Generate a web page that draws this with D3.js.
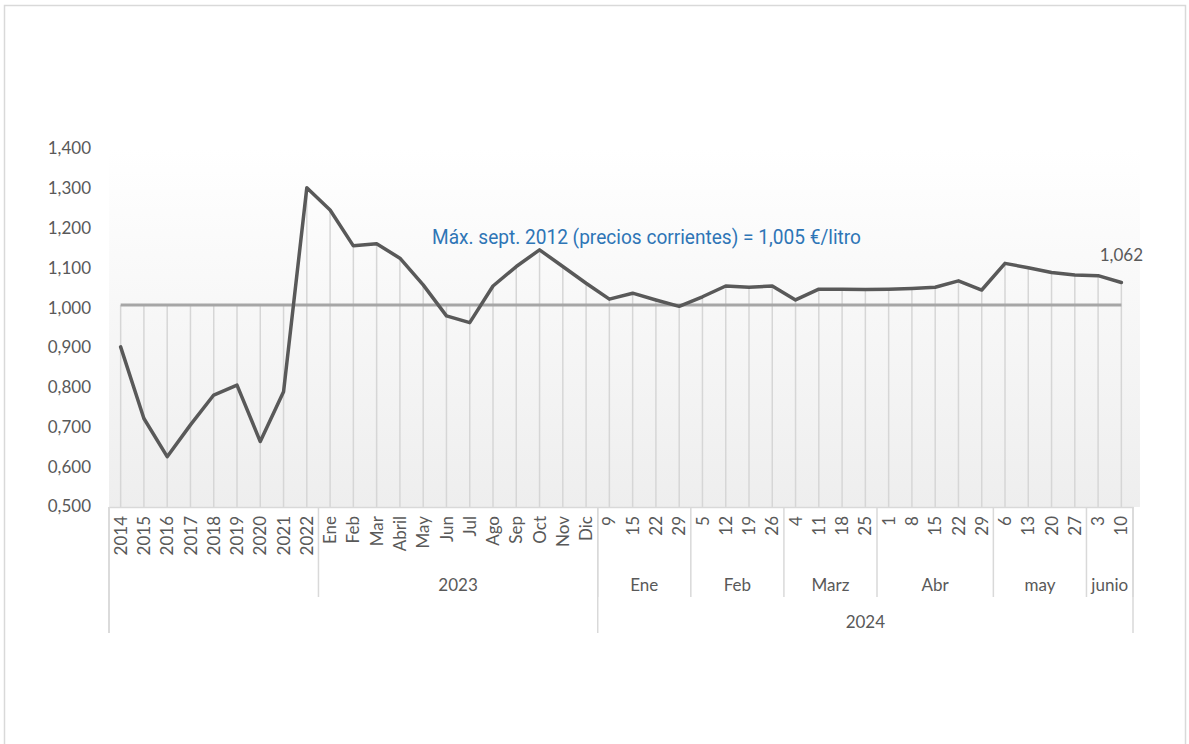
<!DOCTYPE html>
<html><head><meta charset="utf-8">
<script src="https://cdn.jsdelivr.net/npm/d3@7"></script>
<style>body{margin:0;background:#fff} svg{display:block}</style>
</head><body><svg id="c" width="1189" height="744"></svg>
<script>
const categories = ["2014","2015","2016","2017","2018","2019","2020","2021","2022",
  "Ene","Feb","Mar","Abril","May","Jun","Jul","Ago","Sep","Oct","Nov","Dic",
  "9","15","22","29","5","12","19","26","4","11","18","25","1","8","15","22","29","6","13","20","27","3","10"];
const values = [0.900,0.720,0.624,0.704,0.779,0.804,0.662,0.787,1.300,
  1.244,1.154,1.159,1.123,1.056,0.978,0.961,1.053,1.102,1.144,1.102,1.060,
  1.020,1.035,1.018,1.002,1.026,1.053,1.050,1.053,1.018,1.045,1.045,1.044,1.045,1.047,1.050,1.066,1.043,1.110,1.099,1.087,1.081,1.079,1.062];
const refValue = 1.005;
const yTicks = [0.5,0.6,0.7,0.8,0.9,1.0,1.1,1.2,1.3,1.4];
const level2Groups = [["",9],["2023",12],["Ene",4],["Feb",4],["Marz",4],["Abr",5],["may",4],["junio",2]];
const level3Groups = [["",21],["2024",23]];
const annotationText = "Máx. sept. 2012 (precios corrientes) = 1,005 €/litro";
const lastLabel = "1,062";

const FONT = "Lato, 'Noto Sans', sans-serif";
const GRAY = "#595959";
const svg = d3.select("#c");
const locale = d3.formatLocale({decimal: ",", thousands: ".", grouping: [3], currency: ["", "€"]});
const fmt = locale.format(".3f");

const x = d3.scaleBand().domain(d3.range(categories.length)).range([109, 1133]);
const y = d3.scaleLinear().domain([0.5, 1.4]).range([506, 148]);
const cx = i => x(i) + x.bandwidth() / 2;
const axisY = 507;

// frame
svg.append("rect").attr("x", 4.5).attr("y", 5.5).attr("width", 1181).attr("height", 800)
  .attr("fill", "#fff").attr("stroke", "#d9d9d9").attr("stroke-width", 1.5);

// plot background gradient
const defs = svg.append("defs");
const grad = defs.append("linearGradient").attr("id", "bg").attr("x1", 0).attr("y1", 0).attr("x2", 0).attr("y2", 1);
grad.append("stop").attr("offset", "0%").attr("stop-color", "#ffffff");
grad.append("stop").attr("offset", "12%").attr("stop-color", "#fdfdfd");
grad.append("stop").attr("offset", "100%").attr("stop-color", "#eeeeee");
svg.append("rect").attr("x", 109).attr("y", y(1.4)).attr("width", 1140 - 109).attr("height", axisY - y(1.4))
  .attr("fill", "url(#bg)");

// drop lines
svg.append("g").selectAll("line").data(values).join("line")
  .attr("x1", (d, i) => cx(i)).attr("x2", (d, i) => cx(i))
  .attr("y1", axisY).attr("y2", d => y(Math.max(d, refValue)))
  .attr("stroke", "#d6d6d6").attr("stroke-width", 1.5);

// y axis
const yAxis = svg.append("g").attr("transform", `translate(109,0)`)
  .call(d3.axisLeft(y).tickValues(yTicks).tickFormat(fmt).tickSize(0).tickPadding(18));
yAxis.select(".domain").remove();
yAxis.selectAll("text").attr("font-family", FONT).attr("font-size", 17).attr("fill", GRAY).attr("dy", "0.35em");

// x axis
const xAxis = svg.append("g").attr("transform", `translate(0,${axisY})`)
  .call(d3.axisBottom(x).tickFormat(i => categories[i]).tickSize(0).tickSizeOuter(0));
xAxis.select(".domain").attr("stroke", "#d9d9d9").attr("stroke-width", 1.5);
xAxis.selectAll("text").attr("transform", "rotate(-90)").attr("text-anchor", "end")
  .attr("x", -9).attr("y", 0).attr("dy", "0.36em")
  .attr("font-family", FONT).attr("font-size", 17).attr("fill", GRAY);

// multi-level labels
function drawLevel(groups, bottom, labelY) {
  let start = 0;
  const g = svg.append("g");
  groups.forEach(([label, n], k) => {
    const x0 = x(start), x1 = x(start + n - 1) + x.bandwidth();
    if (label) g.append("text").attr("x", (x0 + x1) / 2).attr("y", labelY).attr("dy", "0.35em")
      .attr("text-anchor", "middle").attr("font-family", FONT).attr("font-size", 17).attr("fill", GRAY).text(label);
    g.append("line").attr("x1", x1).attr("x2", x1).attr("y1", axisY).attr("y2", bottom)
      .attr("stroke", "#d9d9d9").attr("stroke-width", 1.5);
    start += n;
  });
  g.append("line").attr("x1", x(0)).attr("x2", x(0)).attr("y1", axisY).attr("y2", 633)
    .attr("stroke", "#d9d9d9").attr("stroke-width", 1.5);
}
drawLevel(level2Groups, 597, 585);
drawLevel(level3Groups, 633, 622);

// reference line
svg.append("path").datum(values)
  .attr("d", d3.line().x((d, i) => cx(i)).y(() => y(refValue)))
  .attr("fill", "none").attr("stroke", "#a6a6a6").attr("stroke-width", 3);

// data line
svg.append("path").datum(values)
  .attr("d", d3.line().x((d, i) => cx(i)).y(d => y(d)))
  .attr("fill", "none").attr("stroke", "#595959").attr("stroke-width", 3.5)
  .attr("stroke-linejoin", "round").attr("stroke-linecap", "round");

// annotation
svg.append("text").attr("x", 432).attr("y", 244).attr("font-family", "Roboto, sans-serif")
  .attr("font-size", 20).attr("fill", "#2E75B6").attr("textLength", 429).attr("lengthAdjust", "spacingAndGlyphs")
  .text(annotationText);

// last value label
const li = values.length - 1;
svg.append("text").attr("x", cx(li)).attr("y", y(values[li]) - 21).attr("text-anchor", "middle")
  .attr("font-family", FONT).attr("font-size", 17).attr("fill", GRAY).text(lastLabel);
</script></body></html>
